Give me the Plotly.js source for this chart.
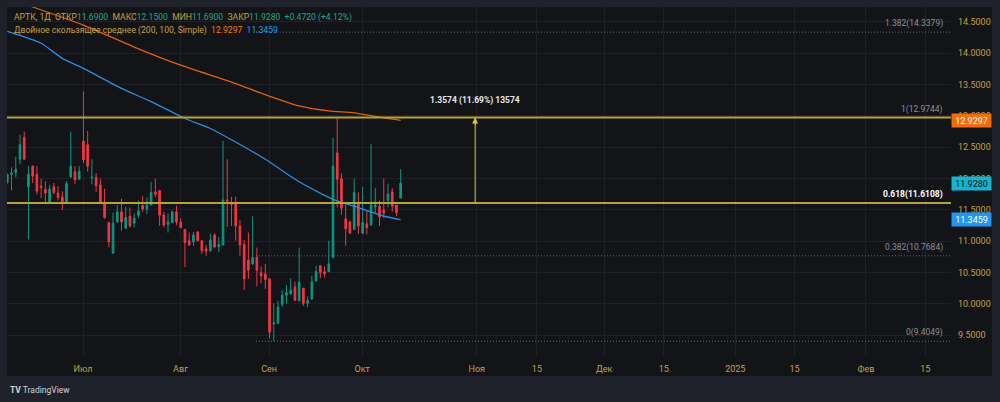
<!DOCTYPE html>
<html><head><meta charset="utf-8">
<script src="https://cdn.plot.ly/plotly-3.0.1.min.js"></script>
<style>html,body{margin:0;padding:0;background:#1e2129;}#chart{width:1000px;height:402px;}</style>
</head><body><div id="chart"></div>
<script>
// ---- data (АРТК, 1Д) ----
const opens  = [11.94,12.07,12.10,12.31,12.66,11.87,12.20,12.07,11.88,11.83,11.62,11.87,11.77,11.71,11.62,12.03,12.11,11.99,12.60,12.54,12.01,12.02,11.90,11.62,11.30,10.81,11.31,11.47,11.21,11.40,11.29,11.415,11.57,11.515,11.58,11.79,11.81,11.42,11.27,11.30,11.47,11.31,11.19,11.01,10.99,11.15,11.01,10.88,10.85,11.10,10.915,10.94,11.66,11.61,11.595,11.245,10.95,10.70,10.64,10.745,10.50,10.48,10.40,9.68,9.69,9.995,10.14,10.16,10.27,10.05,10.25,10.01,10.08,10.37,10.61,10.515,10.515,10.75,12.41,12.00,11.36,11.31,11.19,11.61,11.13,11.28,11.26,11.55,11.56,11.50,11.65,11.79,11.58,11.69];
const highs  = [12.08,12.18,12.35,12.70,12.75,12.20,12.21,12.20,12.00,11.96,11.90,11.93,11.88,11.80,11.96,12.745,12.20,12.20,13.39,12.76,12.31,12.09,12.00,11.84,11.31,11.46,11.58,11.68,11.55,11.54,11.44,11.65,11.72,11.70,11.95,12.00,11.82,11.47,11.44,11.49,11.57,11.37,11.19,11.14,11.15,11.16,11.01,10.94,11.12,11.13,11.07,12.60,12.31,11.71,11.71,11.34,11.02,11.14,11.40,10.90,10.60,10.64,10.41,10.01,10.05,10.22,10.30,10.41,10.36,10.90,10.26,10.12,10.45,10.61,10.61,10.60,11.01,12.65,12.9744,12.085,11.61,11.33,12.00,11.78,11.87,11.50,12.55,11.85,11.65,12.00,11.92,11.85,11.58,12.15];
const lows   = [11.92,11.81,12.02,12.23,12.30,11.03,11.93,11.75,11.69,11.62,11.60,11.75,11.65,11.50,11.595,12.01,11.91,11.98,12.25,12.11,11.91,11.79,11.60,11.36,10.91,10.81,11.29,11.17,11.20,11.22,11.22,11.37,11.47,11.435,11.58,11.70,11.25,11.225,11.14,11.29,11.26,11.21,10.59,10.93,10.93,11.00,10.80,10.77,10.83,10.89,10.83,10.94,11.23,11.245,11.01,10.77,10.22,10.40,10.62,10.28,10.33,10.24,9.45,9.4049,9.68,9.955,10.01,10.15,10.05,10.05,9.97,9.95,10.07,10.355,10.41,10.425,10.51,10.72,11.54,11.42,10.93,11.115,11.18,11.115,11.115,11.115,11.25,11.45,11.245,11.37,11.54,11.47,11.40,11.69];
const closes = [12.07,12.09,12.15,12.54,12.31,12.07,12.04,11.80,11.86,11.77,11.835,11.78,11.70,11.63,11.92,12.20,11.98,12.12,12.30,12.20,12.025,11.89,11.62,11.38,10.99,11.29,11.47,11.31,11.38,11.245,11.37,11.48,11.515,11.58,11.78,11.75,11.42,11.26,11.31,11.47,11.31,11.22,10.98,10.94,11.10,11.01,10.85,10.845,11.02,10.91,10.95,11.66,11.645,11.59,11.245,10.94,10.40,10.54,10.74,10.54,10.45,10.39,9.55,9.70,9.95,10.14,10.18,10.22,10.06,10.35,10.01,10.05,10.35,10.515,10.50,10.48,10.64,12.20,11.99,11.53,11.20,11.13,11.78,11.245,11.30,11.22,11.58,11.58,11.39,11.45,11.755,11.56,11.46,11.928];

// Double moving average (200, 100, Simple), values read at these bars
const ma200Bars = [1, 7, 19, 31, 42, 54, 62, 70, 77, 83, 89, 94];
const ma200     = [14.88, 14.74, 14.45, 14.10, 13.81, 13.54, 13.34, 13.16, 13.08, 13.05, 12.98, 12.9297];
const ma100Bars = [1, 9, 14, 19, 28, 35, 43, 49, 54, 62, 70, 78, 83, 90, 94];
const ma100     = [14.35, 14.16, 13.92, 13.76, 13.44, 13.23, 12.96, 12.80, 12.62, 12.31, 11.95, 11.67, 11.56, 11.40, 11.3459];

// time axis ticks (bar positions) and labels
const xTickBars   = [18.9, 41.95, 62.9, 84.9, 112.0, 126.2, 142.1, 156.2, 173.1, 187.1, 204.0, 218.0];
const xTickLabels = ['Июл','Авг','Сен','Окт','Ноя','15','Дек','15','2025','15','Фев','15'];
const yTicks = [9.5, 10.0, 10.5, 11.0, 11.5, 12.0, 12.5, 13.0, 13.5, 14.0, 14.5];

// Fibonacci levels
const fibLevels = [0, 0.382, 0.618, 1, 1.382];
const fibPrices = [9.4049, 10.7684, 11.6108, 12.9744, 14.3379];
const fibStartBar = 59.8;

// measurement
const measureBar = 111.6;
const measureFrom = 11.617, measureTo = 12.9744;
const measureText = '1.3574 (11.69%) 13574';
const measureTextPrice = 13.24;

// header
const ticker = 'АРТК, 1Д';
const ohlcLast = {o:'11.6900', h:'12.1500', l:'11.6900', c:'11.9280', chg:'+0.4720 (+4.12%)'};
const maName = 'Двойное скользящее среднее (200, 100, Simple)';

// ---- layout helpers (pixel -> paper) ----
const L = 7, R = 951, T = 7, B = 356, W = 1000, H = 402;
const px = x => (x - L) / (R - L);
const py = y => (B - y) / (B - T);

const bars = opens.map((_, i) => i + 1);

const gold = '#c4a043', teal = '#1fa68d', gridC = '#1f2127', bgDark = '#131418';
const font = 'Roboto, "DejaVu Sans", sans-serif';

const traces = [
  {type:'scatter', mode:'lines', x: ma200Bars, y: ma200, line:{color:'#e0620e', width:1.3, shape:'spline', smoothing:0.6}, hoverinfo:'skip'},
  {type:'scatter', mode:'lines', x: ma100Bars, y: ma100, line:{color:'#2a8ee0', width:1.3, shape:'spline', smoothing:0.6}, hoverinfo:'skip'},
  {type:'candlestick', x: bars, open: opens, high: highs, low: lows, close: closes,
   increasing:{line:{color:'#089981', width:1}, fillcolor:'#089981'},
   decreasing:{line:{color:'#f23645', width:1}, fillcolor:'#f23645'},
   whiskerwidth:0, hoverinfo:'skip'}
];

const shapes = [
  {type:'rect', xref:'paper', yref:'paper', x0:px(7), x1:px(992), y0:py(376), y1:py(7), fillcolor:bgDark, line:{width:0}, layer:'below'}
];
const annotations = [];

fibLevels.forEach((lv, i) => {
  const p = fibPrices[i];
  const solid = (lv === 0.618 || lv === 1);
  if (solid) {
    shapes.push({type:'line', xref:'paper', yref:'y', x0:0, x1:1, y0:p, y1:p, line:{color:'#b3a434', width:2}, layer:'above'});
  } else {
    shapes.push({type:'line', xref:'x', yref:'y', x0:fibStartBar, x1:240, y0:p, y1:p, line:{color:'#666973', width:1, dash:'1px,2px'}, layer:'above'});
  }
  annotations.push({xref:'paper', yref:'y', x:px(945), y:p, xanchor:'right', yanchor:'bottom', yshift:1,
    text: (lv === 0.618 ? '<b>' : '') + lv + '(' + p.toFixed(4) + ')' + (lv === 0.618 ? '</b>' : ''),
    showarrow:false, font:{family:font, size:8.5, color: lv === 0.618 ? '#ffffff' : '#8b8e97'}});
});

// measurement arrow
shapes.push({type:'line', xref:'x', yref:'y', x0:measureBar, x1:measureBar, y0:measureFrom, y1:measureTo, line:{color:'#d8c440', width:1}, layer:'above'});
annotations.push({xref:'x', yref:'y', x:measureBar, y:measureTo, ax:0, ay:9, text:'', showarrow:true, arrowhead:2, arrowsize:1.2, arrowwidth:1, arrowcolor:'#d8c440', standoff:0});
annotations.push({xref:'x', yref:'y', x:measureBar, y:measureTextPrice, text:'<b>' + measureText + '</b>', showarrow:false, font:{family:font, size:8.5, color:'#e8e8e8'}});

// header legend
const sp = (c, t) => '<span style="color:' + c + '">' + t + '</span>';
annotations.push({xref:'paper', yref:'paper', x:px(12), y:py(17.5), xanchor:'left', yanchor:'middle', showarrow:false,
  font:{family:font, size:8.6, color:gold},
  text: sp(gold, ticker + '  ОТКР') + sp(teal, ohlcLast.o) + sp(gold, '  МАКС') + sp(teal, ohlcLast.h) + sp(gold, '  МИН') + sp(teal, ohlcLast.l) + sp(gold, '  ЗАКР') + sp(teal, ohlcLast.c) + sp(teal, '  ' + ohlcLast.chg)});
annotations.push({xref:'paper', yref:'paper', x:px(12), y:py(30.5), xanchor:'left', yanchor:'middle', showarrow:false,
  font:{family:font, size:8.6, color:gold},
  text: sp(gold, maName) + sp('#f57c00', '  ' + ma200[ma200.length-1].toFixed(4)) + sp('#2196f3', '  ' + ma100[ma100.length-1].toFixed(4))});

// price tags on the axis
const tag = (price, bg, fg) => ({xref:'paper', yref:'y', x:1, y:price, xanchor:'left', yanchor:'middle', showarrow:false,
  text: price.toFixed(4), bgcolor:bg, font:{family:font, size:9, color:fg}, width:39, height:13, borderpad:0, align:'center'});
annotations.push(tag(ma200[ma200.length-1], '#f36b0a', '#ffffff'));
annotations.push(tag(closes[closes.length-1], '#14b5cf', '#101215'));
annotations.push(tag(ma100[ma100.length-1], '#2196f3', '#ffffff'));

// TradingView mark
annotations.push({xref:'paper', yref:'paper', x:px(8), y:py(390), xanchor:'left', yanchor:'middle', showarrow:false,
  text:'<b>TV</b> TradingView', font:{family:font, size:8.5, color:'#d1d4dc'}});

const layout = {
  width:W, height:H, margin:{l:L, r:W-R, t:T, b:H-B},
  paper_bgcolor:'#1e2129', plot_bgcolor:bgDark, showlegend:false, boxgap:0.45,
  font:{family:font, size:9, color:gold},
  xaxis:{range:[0.93, 224.1], tickmode:'array', tickvals:xTickBars, ticktext:xTickLabels, showgrid:true, gridcolor:gridC, gridwidth:1,
    zeroline:false, showline:false, ticks:'', tickfont:{family:font, size:9, color:gold}, rangeslider:{visible:false}, fixedrange:true, ticklabelstandoff:6},
  yaxis:{side:'right', range:[9.170, 14.739], tickmode:'array', tickvals:yTicks, tickformat:'.4f', showgrid:true, gridcolor:gridC, gridwidth:1,
    zeroline:false, showline:false, ticks:'', tickfont:{family:font, size:9, color:gold}, fixedrange:true, ticklabelstandoff:6},
  shapes:shapes, annotations:annotations, hovermode:false
};

Plotly.newPlot('chart', traces, layout, {displayModeBar:false, staticPlot:true});
</script>
</body></html>
